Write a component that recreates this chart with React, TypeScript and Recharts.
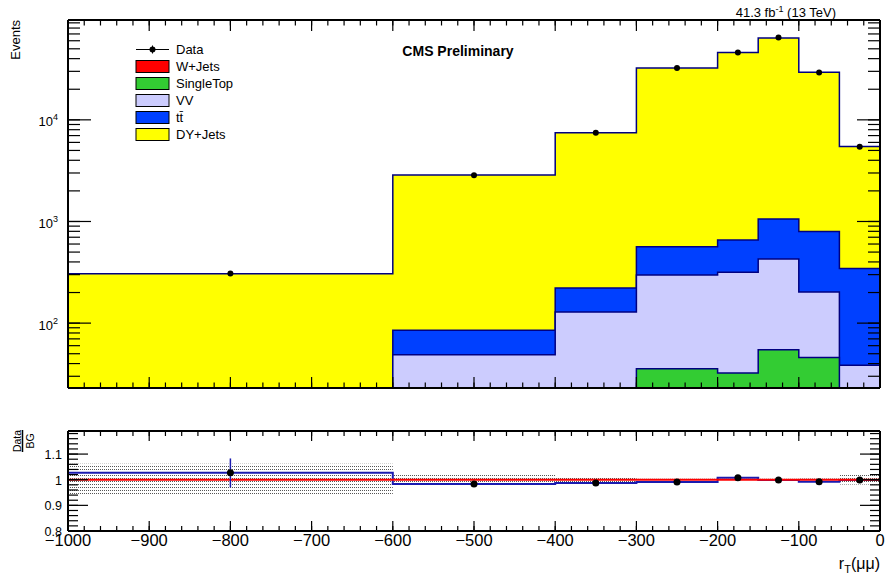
import React from 'react';
import { ComposedChart, Area, Line, Scatter, XAxis, YAxis, ReferenceLine, ErrorBar } from 'recharts';

// bin layout (variable width histogram)
const binEdges = [-1000, -600, -400, -300, -200, -150, -100, -50, 0];
const binCenters = [-800, -500, -350, -250, -175, -125, -75, -25];

// background components per bin (events)
const wJets = [0.2, 1.5, 2, 2, 2, 3, 2, 1];
const singleTop = [0.5, 6, 14, 33.6, 30.3, 51.7, 43.9, 11];
const vv = [4, 41.4, 113, 262, 285, 373, 157, 26.4];
const ttbar = [10, 36, 92, 267, 341, 632, 592, 306];
const dyJets = [292, 2775, 7230, 31835, 45240, 62940, 28600, 5136];

// observed data
const dataCounts = [307, 2850, 7450, 32400, 45900, 64500, 29200, 5450];

// ratio panel
const ratioValues = [1.027, 0.983, 0.987, 0.991, 1.008, 0.999, 0.992, 0.999];
const ratioErrLow = [0.057, 0.007, 0.004, 0.003, 0.003, 0.003, 0.003, 0.005];
const ratioErrHigh = [0.056, 0.007, 0.004, 0.003, 0.003, 0.003, 0.003, 0.005];
const bgUncert = [0.062, 0.022, 0.012, 0.004, 0.004, 0.004, 0.005, 0.019];

// axis ticks
const xMajorTicks = [-1000, -900, -800, -700, -600, -500, -400, -300, -200, -100, 0];
const xAllTicks = Array.from({ length: 51 }, (_, i) => -1000 + 20 * i);
const logMajorTicks = [100, 1000, 10000];
const logAllTicks = [10, 100, 1000, 10000].flatMap(d => [1, 2, 3, 4, 5, 6, 7, 8, 9].map(m => m * d)).filter(v => v > 23 && v < 96000);
const ratioMajorTicks = [0.8, 0.9, 1, 1.1];
const ratioAllTicks = Array.from({ length: 20 }, (_, i) => Math.round((0.8 + 0.02 * i) * 100) / 100);

const LOG_DOMAIN: [number, number] = [23, 96000];
const RATIO_DOMAIN: [number, number] = [0.8, 1.19];
const FONT = '"Liberation Sans", Arial, Helvetica, sans-serif';
const OUTLINE = '#000080';

const COLORS = {
  wJets: '#ff0000',
  singleTop: '#33cc33',
  vv: '#ccccfe',
  ttbar: '#0040ff',
  dyJets: '#ffff00',
};

const stackRows = binEdges.map((x, i) => {
  const k = Math.min(i, binCenters.length - 1);
  const wj = wJets[k];
  const st = wj + singleTop[k];
  const vvc = st + vv[k];
  const tt = vvc + ttbar[k];
  const dy = tt + dyJets[k];
  return { x, wj, st, vv: vvc, tt, dy };
});

const dataPoints = binCenters.map((x, i) => ({ x, y: dataCounts[i] }));

const ratioRows = binEdges.map((x, i) => {
  const k = Math.min(i, binCenters.length - 1);
  return { x, ratio: ratioValues[k], band: [1 - bgUncert[k], 1 + bgUncert[k]] };
});

const ratioPoints = binCenters.map((x, i) => ({ x, y: ratioValues[i], err: [ratioErrLow[i], ratioErrHigh[i]] }));

type LabelFn = (v: number, x: number, y: number) => React.ReactNode;

// custom tick: draws the long (major) inward mark plus optional label;
// the short inward mark for every tick comes from the built-in tickLine
function tickMark(side: string, majors: number[], majorLen: number, label: LabelFn | null) {
  return (p: any) => {
    const v = Number(p.payload && p.payload.value);
    const isMajor = majors.some(m => Math.abs(m - v) < 1e-6);
    const x = Number(p.x);
    const y = Number(p.y);
    let x2 = x;
    let y2 = y;
    if (side === 'left') x2 = x + majorLen;
    else if (side === 'right') x2 = x - majorLen;
    else if (side === 'bottom') y2 = y - majorLen;
    else y2 = y + majorLen;
    return (
      <g>
        {isMajor ? <line x1={x} y1={y} x2={x2} y2={y2} stroke="#000" strokeWidth={1.2} /> : null}
        {label && isMajor ? label(v, x, y) : null}
      </g>
    );
  };
}

const axisLine = { stroke: '#000', strokeWidth: 2 };
const tickLine = { stroke: '#000', strokeWidth: 1.2 };

const logLabel: LabelFn = (v, x, y) => (
  <text x={x - 10} y={y + 6.5} textAnchor="end" fontSize={13} fontFamily={FONT} fill="#000">
    10<tspan dy={-6} fontSize={9}>{Math.round(Math.log10(v))}</tspan>
  </text>
);

const ratioLabel: LabelFn = (v, x, y) => (
  <text x={x - 6} y={y + 5} textAnchor="end" fontSize={12.5} fontFamily={FONT} fill="#000">
    {String(v)}
  </text>
);

const xLabel: LabelFn = (v, x, y) => (
  <text x={x} y={y + 15} textAnchor="middle" fontSize={16.5} fontFamily={FONT} fill="#000">
    {v < 0 ? '\u2212' + Math.abs(v) : String(v)}
  </text>
);

function MainPanel() {
  return (
    <ComposedChart width={886} height={400} data={stackRows} margin={{ top: 0, right: 0, bottom: 0, left: 0 }}>
      <Area xAxisId="b" yAxisId="l" type="stepAfter" dataKey="dy" fill={COLORS.dyJets} fillOpacity={1} stroke={OUTLINE} strokeWidth={1.5} isAnimationActive={false} />
      <Area xAxisId="b" yAxisId="l" type="stepAfter" dataKey="tt" fill={COLORS.ttbar} fillOpacity={1} stroke={OUTLINE} strokeWidth={1.5} isAnimationActive={false} />
      <Area xAxisId="b" yAxisId="l" type="stepAfter" dataKey="vv" fill={COLORS.vv} fillOpacity={1} stroke={OUTLINE} strokeWidth={1.5} isAnimationActive={false} />
      <Area xAxisId="b" yAxisId="l" type="stepAfter" dataKey="st" fill={COLORS.singleTop} fillOpacity={1} stroke={OUTLINE} strokeWidth={1.5} isAnimationActive={false} />
      <Area xAxisId="b" yAxisId="l" type="stepAfter" dataKey="wj" fill={COLORS.wJets} fillOpacity={1} stroke={OUTLINE} strokeWidth={1.5} isAnimationActive={false} />
      <Line xAxisId="t" yAxisId="r" dataKey="dy" stroke="none" dot={false} isAnimationActive={false} />

      <XAxis xAxisId="b" dataKey="x" type="number" domain={[-1000, 0]} allowDataOverflow ticks={xAllTicks} interval={0}
        height={12} tickSize={-5.5} tickMargin={5.5} axisLine={axisLine} tickLine={tickLine}
        tick={tickMark('bottom', xMajorTicks, 11, null)} />
      <XAxis xAxisId="t" orientation="top" dataKey="x" type="number" domain={[-1000, 0]} allowDataOverflow ticks={xAllTicks} interval={0}
        height={20} tickSize={-5.5} tickMargin={5.5} axisLine={axisLine} tickLine={tickLine}
        tick={tickMark('top', xMajorTicks, 11, null)} />
      <YAxis yAxisId="l" type="number" scale="log" domain={LOG_DOMAIN} allowDataOverflow ticks={logAllTicks} interval={0}
        width={68} tickSize={-12} tickMargin={12} axisLine={axisLine} tickLine={tickLine}
        tick={tickMark('left', logMajorTicks, 23, logLabel)} />
      <YAxis yAxisId="r" orientation="right" type="number" scale="log" domain={LOG_DOMAIN} allowDataOverflow ticks={logAllTicks} interval={0}
        width={6} tickSize={-12} tickMargin={12} axisLine={axisLine} tickLine={tickLine}
        tick={tickMark('right', logMajorTicks, 23, null)} />

      <Scatter xAxisId="b" yAxisId="l" data={dataPoints} dataKey="y" isAnimationActive={false}
        shape={(p: any) => <circle cx={p.cx} cy={p.cy} r={3} fill="#000" />} />
    </ComposedChart>
  );
}

function RatioPanel() {
  return (
    <ComposedChart width={886} height={175} data={ratioRows} margin={{ top: 0, right: 0, bottom: 0, left: 0 }}>
      <defs>
        <pattern id="hatch" width="2" height="3" patternUnits="userSpaceOnUse">
          <rect x="0" y="0" width="1" height="1" fill="#555" />
        </pattern>
      </defs>
      <Area xAxisId="b" yAxisId="l" type="stepAfter" dataKey="band" fill="url(#hatch)" fillOpacity={1} stroke="none" isAnimationActive={false} />
      <Line xAxisId="b" yAxisId="l" type="stepAfter" dataKey="ratio" stroke="#1a1ab0" strokeWidth={2} dot={false} isAnimationActive={false} />
      <ReferenceLine xAxisId="b" yAxisId="l" y={1} stroke="#ff0000" strokeWidth={2} />
      <Line xAxisId="t" yAxisId="r" dataKey="ratio" stroke="none" dot={false} isAnimationActive={false} />

      <XAxis xAxisId="b" dataKey="x" type="number" domain={[-1000, 0]} allowDataOverflow ticks={xAllTicks} interval={0}
        height={44} tickSize={-5} tickMargin={5} axisLine={axisLine} tickLine={tickLine}
        tick={tickMark('bottom', xMajorTicks, 10, xLabel)} />
      <XAxis xAxisId="t" orientation="top" dataKey="x" type="number" domain={[-1000, 0]} allowDataOverflow ticks={xAllTicks} interval={0}
        height={31} tickSize={-5} tickMargin={5} axisLine={axisLine} tickLine={tickLine}
        tick={tickMark('top', xMajorTicks, 10, null)} />
      <YAxis yAxisId="l" type="number" domain={RATIO_DOMAIN} allowDataOverflow ticks={ratioAllTicks} interval={0}
        width={68} tickSize={-10} tickMargin={10} axisLine={axisLine} tickLine={tickLine}
        tick={tickMark('left', ratioMajorTicks, 20, ratioLabel)} />
      <YAxis yAxisId="r" orientation="right" type="number" domain={RATIO_DOMAIN} allowDataOverflow ticks={ratioAllTicks} interval={0}
        width={6} tickSize={-10} tickMargin={10} axisLine={axisLine} tickLine={tickLine}
        tick={tickMark('right', ratioMajorTicks, 20, null)} />

      <Scatter xAxisId="b" yAxisId="l" data={ratioPoints} dataKey="y" isAnimationActive={false}
        shape={(p: any) => <circle cx={p.cx} cy={p.cy} r={3.5} fill="#000" />}>
        <ErrorBar dataKey="err" direction="y" width={0} stroke="#1a1ab0" strokeWidth={1.5} />
      </Scatter>
    </ComposedChart>
  );
}

const legendItems = [
  { label: 'W+Jets', color: COLORS.wJets },
  { label: 'SingleTop', color: COLORS.singleTop },
  { label: 'VV', color: COLORS.vv },
  { label: 't\u0074\u0304', color: COLORS.ttbar },
  { label: 'DY+Jets', color: COLORS.dyJets },
];

function Overlay() {
  const rowY = (i: number) => 49.5 + 17 * i;
  return (
    <svg width={886} height={575} style={{ position: 'absolute', left: 0, top: 0, pointerEvents: 'none' }} fontFamily={FONT}>
      {/* legend */}
      <line x1={136} y1={rowY(0)} x2={169} y2={rowY(0)} stroke="#000" strokeWidth={1} />
      <line x1={152.5} y1={rowY(0) - 4} x2={152.5} y2={rowY(0) + 4} stroke="#000" strokeWidth={1} />
      <circle cx={152.5} cy={rowY(0)} r={3} fill="#000" />
      <text x={176} y={rowY(0) + 4.5} fontSize={13} fill="#000">Data</text>
      {legendItems.map((it, i) => (
        <g key={it.label}>
          <rect x={136} y={rowY(i + 1) - 6} width={33} height={12} fill={it.color} stroke="#000" strokeWidth={1} />
          <text x={176} y={rowY(i + 1) + 4.5} fontSize={13} fill="#000">{it.label}</text>
        </g>
      ))}

      <text x={458} y={56} textAnchor="middle" fontSize={14} fontWeight="bold" fill="#000">CMS Preliminary</text>
      <text x={836} y={16.5} textAnchor="end" fontSize={13} fill="#000">
        41.3 fb<tspan dy={-5} fontSize={9}>-1</tspan><tspan dy={5}> (13 TeV)</tspan>
      </text>

      <text transform="translate(19.5,20) rotate(-90)" textAnchor="end" fontSize={13} fill="#000">Events</text>

      <g transform="translate(22.5,441) rotate(-90)">
        <text x={0} y={-2} textAnchor="middle" fontSize={10.5} fill="#000">Data</text>
        <line x1={-11} y1={0} x2={11} y2={0} stroke="#000" strokeWidth={1.5} />
        <text x={0} y={11.5} textAnchor="middle" fontSize={10.5} fill="#000">BG</text>
      </g>

      <text x={880} y={569} textAnchor="end" fontSize={16} fill="#000">
        r<tspan dy={4} fontSize={11}>T</tspan><tspan dy={-4}>(μμ)</tspan>
      </text>
    </svg>
  );
}

export default function App() {
  return (
    <div style={{ position: 'absolute', left: 0, top: 0, width: 886, height: 575, fontFamily: FONT }}>
      <Overlay />
      <div style={{ position: 'absolute', left: 0, top: 0 }}>
        <MainPanel />
      </div>
      <div style={{ position: 'absolute', left: 0, top: 400 }}>
        <RatioPanel />
      </div>
    </div>
  );
}
